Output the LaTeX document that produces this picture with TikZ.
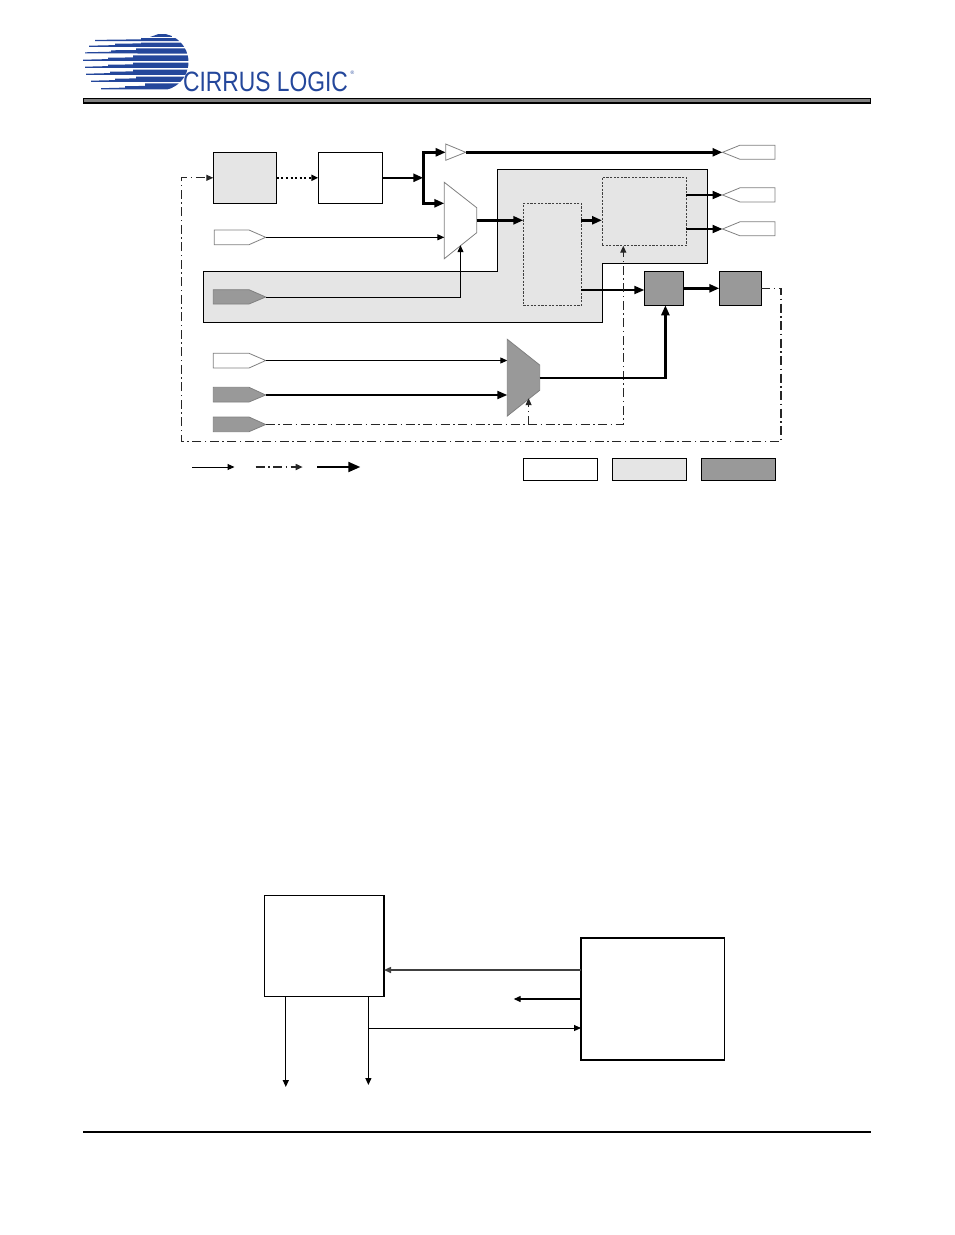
\documentclass[tikz,border=0pt]{standalone}
\usepackage{fontspec}
\setmainfont{Liberation Sans}
\usetikzlibrary{arrows.meta,calc}
\definecolor{lightfill}{HTML}{E5E5E5}
\definecolor{darkfill}{HTML}{999999}
\definecolor{logoblue}{HTML}{24479B}
\newcommand{\logostripe}[5]{\fill[logoblue] (#3,#2-.2)--(#3,#2-1.3)--(#4,#2-1.9)--(#4,#2-3.3)--(#5,#2-3.6)--(#5,#1)--(195,#1)--(195,#2)--cycle;}
\tikzset{
  x=1pt,y=-1pt,
  block/.style={draw=black,line width=1pt,inner sep=0pt,outer sep=0pt,rectangle},
  greyblock/.style={block,fill=lightfill},
  darkblock/.style={block,fill=darkfill},
  dashblock/.style={block,fill=lightfill,draw=black!75,dash pattern=on 2.2pt off 1.4pt},
  bigblock/.style={block,line width=1.6pt},
  pin/.style={draw=black!50,line width=.8pt,line join=miter},
  pinwhite/.style={pin,fill=white},
  pindark/.style={pin,fill=darkfill},
  tipsmall/.tip={Triangle[length=7pt,width=6pt]},
  tipmid/.tip={Triangle[length=10pt,width=8pt]},
  tipbig/.tip={Triangle[length=12pt,width=10pt]},
  thinline/.style={draw=black,line width=1pt,-tipsmall},
  medline/.style={draw=black,line width=2pt,-tipmid},
  fatline/.style={draw=black,line width=3pt,line join=miter,-tipmid},
  ctrlline/.style={draw=black!85,line width=1.2pt,dash pattern=on 9pt off 3.5pt on 1.5pt off 3.5pt,-tipsmall},
}
\begin{document}
\begin{tikzpicture}
\useasboundingbox (0,0) rectangle (954,1235);
% logo
\begin{scope}
\clip (160,33.5) arc[start angle=-90,end angle=90,radius=28.5] -- (75,90.5) -- (75,37) -- (150,37) -- cycle;
\fill[logoblue] (150,33.5) rectangle (172,36.5);
\logostripe{38}{41.2}{95}{141}{141}
\logostripe{42.7}{47}{89}{115}{141}
\logostripe{48.3}{53.6}{85}{111}{136}
\logostripe{55.3}{61}{83}{108}{133}
\logostripe{62.7}{68}{85}{108}{133}
\logostripe{69.7}{75}{86}{110}{133}
\logostripe{76.7}{82}{91}{115}{136}
\logostripe{83.3}{89.5}{101}{125}{145}
\end{scope}
\node[anchor=base west,inner sep=0pt,xscale=.815,text=logoblue,font=\fontsize{28}{28}\selectfont] (logotext) at (183,91) {CIRRUS LOGIC};
\node[anchor=center,inner sep=0pt,text=logoblue,font=\fontsize{5}{5}\selectfont] (logomark) at (352.5,73) {®};
% header and footer rules
\path[fill=black!50,draw=black,line width=1.2pt] (83.5,98.6) rectangle (870.5,103);
\draw[black,line width=1.5pt] (83,1132) -- (871,1132);
% grey region
\path[fill=lightfill,draw=black,line width=1pt] (203.3,271.3) -- (497.5,271.3) -- (497.5,169.3) -- (707.7,169.3) -- (707.7,263.5) -- (602.5,263.5) -- (602.5,322.3) -- (203.3,322.3) -- cycle;
% blocks
\node[greyblock,minimum width=63.4pt,minimum height=51pt] (srcA) at (245,177.8) {};
\node[block,minimum width=64.4pt,minimum height=51pt] (srcB) at (350.5,177.8) {};
\node[dashblock,minimum width=58pt,minimum height=102pt] (inner1) at (552.3,254.3) {};
\node[dashblock,minimum width=84.3pt,minimum height=68.4pt] (inner2) at (644.15,211.5) {};
\node[darkblock,minimum width=39pt,minimum height=34pt] (dark1) at (663.8,288.3) {};
\node[darkblock,minimum width=42pt,minimum height=34pt] (dark2) at (740.3,288.3) {};
% legend
\node[block,minimum width=74pt,minimum height=22pt] (keyA) at (560.3,469.3) {};
\node[greyblock,minimum width=74pt,minimum height=22pt] (keyB) at (649.3,469.3) {};
\node[darkblock,minimum width=74pt,minimum height=22pt] (keyC) at (738.3,469.3) {};
% muxes and buffer
\path[pinwhite] (444.3,182.3) -- (476.7,207.7) -- (476.7,232.7) -- (444.3,258.7) -- cycle;
\path[pindark] (507.3,339.3) -- (539.7,365) -- (539.7,390.3) -- (507.3,416) -- cycle;
\path[pinwhite] (445.7,144) -- (465.7,152.3) -- (445.7,160.3) -- cycle;
\coordinate (bufin) at (445.7,152.3);
\coordinate (bufout) at (465.7,152.3);
\coordinate (muxAin) at (444.3,203.3);
\coordinate (muxAdata) at (444.3,237.3);
\coordinate (muxAsel) at (460.5,245.2);
\coordinate (muxAout) at (476.7,220.3);
\coordinate (muxBin1) at (507.3,360.5);
\coordinate (muxBin2) at (507.3,395);
\coordinate (muxBsel) at (528.6,398.2);
\coordinate (muxBout) at (539.7,378);
% input pins
\path[pinwhite] (214.3,230) -- (249,230) -- (265.7,237.3) -- (249,244.7) -- (214.3,244.7) -- cycle;
\coordinate (pin1) at (265.7,237.3);
\path[pindark] (213.3,289.7) -- (249,289.7) -- (265.7,297) -- (249,304) -- (213.3,304) -- cycle;
\coordinate (pin2) at (265.7,297);
\path[pinwhite] (213.3,353.3) -- (249,353.3) -- (265.7,360.5) -- (249,368) -- (213.3,368) -- cycle;
\coordinate (pin3) at (265.7,360.5);
\path[pindark] (213.3,387.3) -- (249,387.3) -- (265.7,395) -- (249,402) -- (213.3,402) -- cycle;
\coordinate (pin4) at (265.7,395);
\path[pindark] (213.3,417) -- (249,417) -- (265.7,424.5) -- (249,431.7) -- (213.3,431.7) -- cycle;
\coordinate (pin5) at (265.7,424.5);
% output pins
\path[pinwhite] (722.5,152.3) -- (740,145.2) -- (775,145.2) -- (775,159.3) -- (740,159.3) -- cycle;
\coordinate (out1) at (722.5,152.3);
\path[pinwhite] (722.5,195) -- (740,187.8) -- (775,187.8) -- (775,202) -- (740,202) -- cycle;
\coordinate (out2) at (722.5,195);
\path[pinwhite] (722.5,229) -- (740,221.8) -- (775,221.8) -- (775,235.8) -- (740,235.8) -- cycle;
\coordinate (out3) at (722.5,229);
% connectors
\draw[draw=black,line width=2pt,dash pattern=on 2pt off 2.6pt,-tipsmall] (srcA.east) -- (srcB.west);
\coordinate (split) at (423.3,177.8);
\draw[fatline,line width=2.4pt] (srcB.east) -- (split);
\draw[fatline] (split) |- (bufin);
\draw[fatline] (split) |- (muxAin);
\draw[fatline] (bufout) -- (out1);
\draw[thinline] (pin1) -- (muxAdata);
\draw[thinline] (pin2) -| (muxAsel);
\draw[fatline] (muxAout) -- (inner1.west |- muxAout);
\draw[fatline] (inner1.east |- muxAout) -- (inner2.west |- muxAout);
\draw[medline] (inner2.east |- out2) -- (out2);
\draw[medline] (inner2.east |- out3) -- (out3);
\coordinate (inner1exit) at (inner1.east |- 0,290);
\draw[medline] (inner1exit) -- (dark1.west |- inner1exit);
\draw[fatline] (dark1.east) -- (dark2.west);
\draw[thinline] (pin3) -- (muxBin1);
\draw[medline] (pin4) -- (muxBin2);
\coordinate (ctrlcorner) at (623.3,424.5);
\draw[ctrlline] (pin5) -- (ctrlcorner) -- (ctrlcorner |- inner2.south);
\draw[ctrlline] (muxBsel |- pin5) -- (muxBsel);
\coordinate (darkin) at (665.4,305.3);
\draw[fatline,line width=2.4pt] (muxBout) -| (darkin);
\coordinate (fbA) at (781,288.3);
\coordinate (fbB) at (781,441.5);
\coordinate (fbC) at (181.7,441.5);
\draw[ctrlline] (dark2.east) -- (fbA) -- (fbB) -- (fbC) |- (srcA.west);
% line legend
\coordinate (k1a) at (192,467); \coordinate (k1b) at (234.5,467);
\coordinate (k2a) at (255.7,467); \coordinate (k2b) at (302.7,467);
\coordinate (k3a) at (317.3,467); \coordinate (k3b) at (360.3,467);
\draw[thinline] (k1a) -- (k1b);
\draw[ctrlline,line width=1.6pt] (k2a) -- (k2b);
\draw[medline,-tipbig] (k3a) -- (k3b);
% lower diagram
\node[bigblock,line width=1.2pt,minimum width=119.3pt,minimum height=101pt] (lowerL) at (324.35,945.8) {};
\node[bigblock,minimum width=143.3pt,minimum height=122pt] (lowerR) at (652.65,999) {};
\coordinate (d1) at (285.8,1087);
\coordinate (d2) at (368.4,1085);
\coordinate (t3) at (513.7,999);
\coordinate (branch) at (368.4,1028);
\draw[thinline,line width=1.5pt,draw=black!75] (lowerR.west |- 0,970) -- (lowerL.east |- 0,970);
\draw[thinline,line width=1.3pt] (lowerR.west |- t3) -- (t3);
\draw[thinline] (branch) -- (lowerR.west |- branch);
\draw[thinline,line width=1.3pt] (lowerL.south -| d1) -- (d1);
\draw[thinline,line width=1.2pt] (lowerL.south -| d2) -- (d2);
\end{tikzpicture}
\end{document}
